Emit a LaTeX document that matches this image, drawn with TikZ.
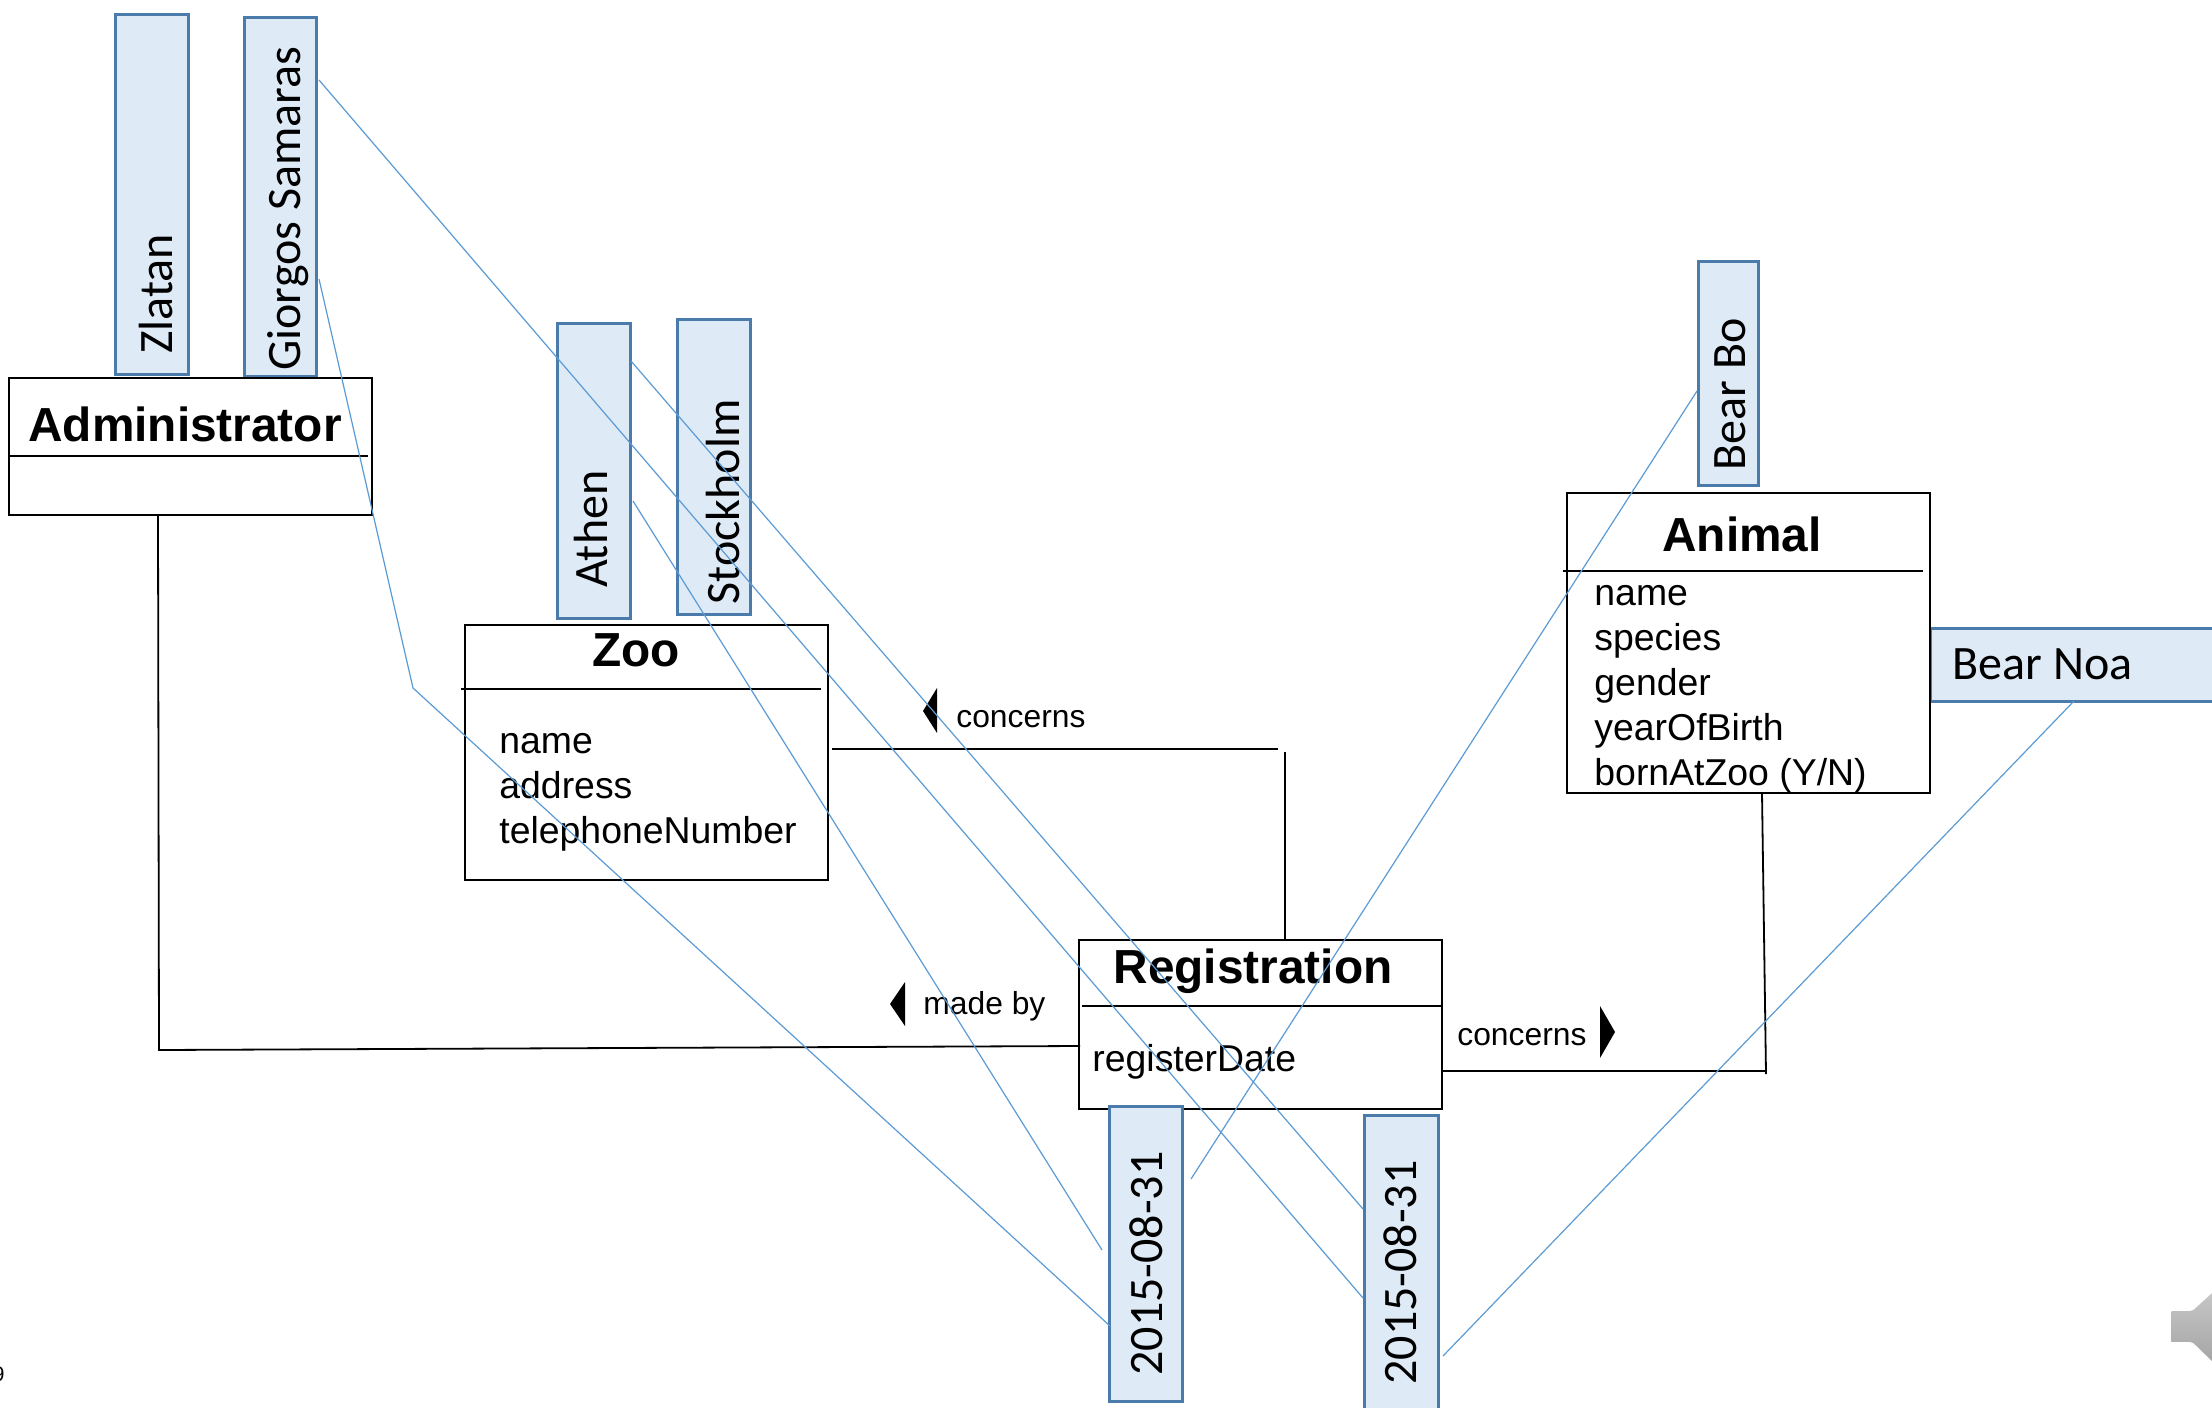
\documentclass[tikz,border=0pt]{standalone}
\usepackage{fontspec}
\setmainfont{Liberation Sans}
\newfontfamily\calfont{Carlito}
\tikzset{
  classbox/.style={draw=black,fill=white,line width=1pt,inner sep=0pt,outer sep=0pt},
  valbox/.style={draw=valedge,fill=valfill,line width=1.5pt,inner sep=0pt,outer sep=0pt},
  divider/.style={draw=black,line width=0.9pt},
  assoc/.style={draw=black,line width=0.9pt},
  mapline/.style={draw=mapblue,line width=0.6pt},
  title/.style={font=\bfseries\fontsize{23.9pt}{28pt}\selectfont,inner sep=0pt},
  attr/.style={font=\fontsize{18.7pt}{20pt}\selectfont,anchor=base west,inner sep=0pt},
  rolelabel/.style={font=\fontsize{15.9pt}{18pt}\selectfont,anchor=base west,inner sep=0pt},
  vallabel/.style={font=\calfont\fontsize{24pt}{26pt}\selectfont,anchor=base west,inner sep=0pt},
  upright/.style={vallabel,rotate=90},
}
\definecolor{valfill}{HTML}{DEEAF6}
\definecolor{valedge}{HTML}{4A7BAA}
\definecolor{mapblue}{HTML}{5B9BD5}
\newcommand{\bx}[6]{\node[#1,minimum width={(#5-#3)*0.5pt},minimum height={(#6-#4)*0.5pt}] (#2) at ({(#3+#5)/2},{(#4+#6)/2}) {};}
\begin{document}
\begin{tikzpicture}[x=0.5pt,y=-0.5pt]
\useasboundingbox (0,0) rectangle (2212,1408);
\clip (0,0) rectangle (2212,1408);
\fill[white] (0,0) rectangle (2212,1408);

% free ends
\coordinate (gA) at (319,80);
\coordinate (gB) at (319,279);
\coordinate (gBend) at (413,688);
\coordinate (aA) at (631,361);
\coordinate (aB) at (633,501);
\coordinate (boEnd) at (1697,391);
\coordinate (noaEnd) at (2074,701);
\coordinate (dTwoLow) at (1363,1298);
\coordinate (dTwoUp) at (1363,1209);
\coordinate (dTwoRight) at (1443,1356);
\coordinate (dOneLow) at (1110,1326);
\coordinate (dOneUp) at (1102,1250);
\coordinate (dOneRight) at (1191,1179);

\coordinate (adminDown) at (158,515);
\coordinate (adminCorner) at (159,1050);
\coordinate (regLeft) at (1080,1046);
\coordinate (zooRight) at (832,749);
\coordinate (zooEnd) at (1278,749);
\coordinate (regTopStart) at (1285,752);
\coordinate (regTop) at (1285,940);
\coordinate (regRight) at (1442,1071);
\coordinate (regEnd) at (1765,1071);
\coordinate (aniDown) at (1762,793);
\coordinate (aniEnd) at (1766,1074);

% value boxes
\bx{valbox}{zlatan}{115.5}{14}{188}{374}
\bx{valbox}{giorgos}{244}{17}{316}{376}
\bx{valbox}{athen}{557}{323}{630}{618}
\bx{valbox}{stockholm}{677}{319}{750}{614}
\bx{valbox}{bearbo}{1698}{261}{1758}{485}
\bx{valbox}{bearnoa}{1930}{628}{2300}{701}

% class boxes
\bx{classbox}{admin}{8.5}{378}{372}{515}
\bx{classbox}{zoo}{465}{625}{828}{880}
\bx{classbox}{reg}{1079}{940}{1442}{1109}
\bx{classbox}{animal}{1567}{493}{1930}{793}

\bx{valbox}{dateone}{1109}{1106}{1182}{1401}
\bx{valbox}{datetwo}{1364}{1115}{1438}{1480}

\draw[divider] (8.5,456) -- (368,456);
\draw[divider] (461,689) -- (821,689);
\draw[divider] (1082,1006) -- (1442,1006);
\draw[divider] (1563,571) -- (1923,571);

% titles
\node[title] (tadmin) at (185,424) {Administrator};
\node[title] (tzoo) at (636,650) {Zoo};
\node[title] (treg) at (1253,971) {Registration};
\node[title] (tanimal) at (1742,534) {Animal};

% attributes
\node[attr] (zA) at (499,753) {name};
\node[attr] (zB) at (499,798) {address};
\node[attr] (zC) at (499,843) {telephoneNumber};
\node[attr] (nA) at (1594,605) {name};
\node[attr] (nB) at (1594,650) {species};
\node[attr] (nC) at (1594,695) {gender};
\node[attr] (nD) at (1594,740) {yearOfBirth};
\node[attr] (nE) at (1594,785) {bornAtZoo (Y/N)};
\node[attr] (rA) at (1092,1071) {registerDate};

% value labels
\node[upright] (lz) at (172,354) {Zlatan};
\node[upright] (lg) at (300,371) {Giorgos Samaras};
\node[upright] (la) at (607,588) {Athen};
\node[upright] (ls) at (739,605) {Stockholm};
\node[upright] (lb) at (1745,471) {Bear Bo};
\node[upright] (ld) at (1162,1376) {2015-08-31};
\node[upright] (le) at (1416,1385) {2015-08-31};
\node[vallabel] (ln) at (1952,679) {Bear Noa};

% associations
\draw[assoc] (adminDown) -- (adminCorner) -- (regLeft);
\draw[assoc] (zooRight) -- (zooEnd);
\draw[assoc] (regTopStart) -- (regTop);
\draw[assoc] (regRight) -- (regEnd);
\draw[assoc] (aniDown) -- (aniEnd);

% role labels and direction marks
\node[rolelabel] (r1) at (956,727.5) {concerns};
\node[rolelabel] (r2) at (923,1014) {made by};
\node[rolelabel] (r3) at (1457,1045.5) {concerns};
\fill[black] (923,711) -- (937,688) -- (937,733) -- cycle;
\fill[black] (890,1004) -- (905,982) -- (905,1026) -- cycle;
\fill[black] (1615,1032) -- (1600,1006) -- (1600,1058) -- cycle;

% mapping lines
\draw[mapline] (gA) -- (dTwoLow);
\draw[mapline] (gB) -- (gBend) -- (dOneLow);
\draw[mapline] (aA) -- (dTwoUp);
\draw[mapline] (aB) -- (dOneUp);
\draw[mapline] (boEnd) -- (dOneRight);
\draw[mapline] (noaEnd) -- (dTwoRight);

% clipped page number
\node[font=\fontsize{10.5pt}{12pt}\selectfont,anchor=base east,inner sep=0pt] (pg) at (5,1381) {9};

% speaker
\shade[top color=gray!40,bottom color=gray!75,draw=white,line width=0.8pt,rounded corners=0.8pt]
  (2170,1310) -- (2192,1310) -- (2225,1280) -- (2225,1375) -- (2192,1343) -- (2170,1343) -- cycle;
\end{tikzpicture}
\end{document}
